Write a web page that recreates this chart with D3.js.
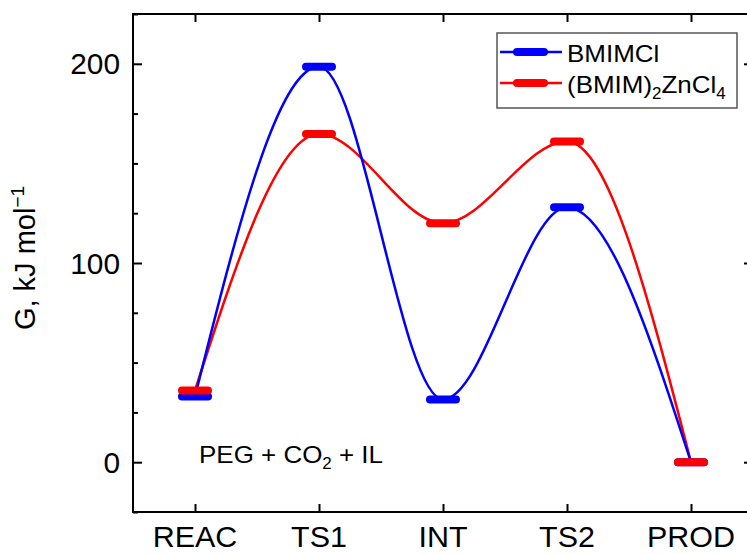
<!DOCTYPE html>
<html>
<head>
<meta charset="utf-8">
<script src="https://cdn.jsdelivr.net/npm/d3@7"></script>
<style>
  body { margin: 0; background: #fff; }
  svg { display: block; font-family: "Liberation Sans", Arial, sans-serif; }
</style>
</head>
<body>
<svg></svg>
<script>
// data
let stages = ["REAC", "TS1", "INT", "TS2", "PROD"]
let bmimcl = [33, 198.5, 31.5, 128, 0]
let znCl4 = [36, 164.8, 120, 161, 0]
let yTicks = [0, 100, 200]
let yMinor = [-25, 25, 50, 75, 125, 150, 175, 225]

let width = 747
let height = 554
let plotLeft = 133, plotRight = 753, plotTop = 14, plotBottom = 512

let svg = d3.select("svg").attr("width", width).attr("height", height)

let xScale = d3.scaleLinear().domain([-0.5, 4.5]).range([plotLeft, plotRight])
let yScale = d3.scaleLinear().domain([-25, 225]).range([plotBottom, plotTop])

// text drawn a little wider, like the original figure
let addText = (g, x, y, size, sx, anchor) => {
    return g.append("text")
        .attr("transform", "translate(" + x + "," + y + ") scale(" + sx + ",1)")
        .attr("font-size", size)
        .attr("text-anchor", anchor)
        .attr("fill", "#000")
}

// frame
svg.append("rect")
    .attr("x", plotLeft).attr("y", plotTop)
    .attr("width", plotRight - plotLeft).attr("height", plotBottom - plotTop)
    .attr("fill", "none").attr("stroke", "#000").attr("stroke-width", 2)

// axes (ticks inside, mirrored on top/right)
let xAxis = d3.axisBottom(xScale).tickValues(d3.range(stages.length))
    .tickSizeInner(-8).tickSizeOuter(0).tickFormat("")
let xAxisTop = d3.axisTop(xScale).tickValues(d3.range(stages.length))
    .tickSizeInner(-8).tickSizeOuter(0).tickFormat("")
let yAxis = d3.axisLeft(yScale).tickValues(yTicks)
    .tickSizeInner(-9).tickSizeOuter(0).tickFormat("")
let yAxisMinor = d3.axisLeft(yScale).tickValues(yMinor)
    .tickSizeInner(-5).tickSizeOuter(0).tickFormat("")
let yAxisRight = d3.axisRight(yScale).tickValues(yTicks)
    .tickSizeInner(-9).tickSizeOuter(0).tickFormat("")
let yAxisRightMinor = d3.axisRight(yScale).tickValues(yMinor)
    .tickSizeInner(-5).tickSizeOuter(0).tickFormat("")

let axes = [
    [xAxis, "translate(0," + plotBottom + ")"],
    [xAxisTop, "translate(0," + plotTop + ")"],
    [yAxis, "translate(" + plotLeft + ",0)"],
    [yAxisMinor, "translate(" + plotLeft + ",0)"],
    [yAxisRight, "translate(" + plotRight + ",0)"],
    [yAxisRightMinor, "translate(" + plotRight + ",0)"]
]
axes.forEach(a => {
    let g = svg.append("g").attr("transform", a[1]).call(a[0])
    g.select(".domain").remove()
    g.selectAll("line").attr("stroke", "#000").attr("stroke-width", 2)
})

// tick labels
stages.forEach((s, i) => {
    addText(svg, xScale(i), 547, 29, 1.05, "middle").text(s)
})
yTicks.forEach(v => {
    addText(svg, 120, yScale(v) + 10.5, 29, 1.03, "end").text(v)
})

// y label
let yl = svg.append("text")
    .attr("transform", "translate(35,258) rotate(-90)")
    .attr("font-size", 29)
    .attr("text-anchor", "middle")
    .attr("fill", "#000")
yl.append("tspan").text("G, kJ mol")
yl.append("tspan").attr("font-size", 19).attr("dy", -11).text("\u22121")

// curves
let line = d3.line()
    .x((d, i) => xScale(i))
    .y(d => yScale(d))
    .curve(d3.curveMonotoneX)

let series = [
    { values: znCl4, color: "#ff0000" },
    { values: bmimcl, color: "#0000ff" }
]
series.forEach(s => {
    svg.append("path")
        .attr("d", line(s.values))
        .attr("fill", "none")
        .attr("stroke", s.color)
        .attr("stroke-width", 2.5)
})

// energy levels
let drawLevels = (values, color) => {
    svg.append("g").selectAll("line")
        .data(values)
        .enter()
        .append("line")
        .attr("x1", (d, i) => xScale(i) - 13)
        .attr("x2", (d, i) => xScale(i) + 13)
        .attr("y1", d => yScale(d))
        .attr("y2", d => yScale(d))
        .attr("stroke", color)
        .attr("stroke-width", 8)
        .attr("stroke-linecap", "round")
}
drawLevels(bmimcl, "#0000ff")
drawLevels(znCl4, "#ff0000")

// annotation
let ann = addText(svg, 199, 463, 24.5, 1.06, "start")
ann.append("tspan").text("PEG + CO")
ann.append("tspan").attr("font-size", 16).attr("dy", 6).text("2")
ann.append("tspan").attr("dy", -6).text(" + IL")

// legend
let legend = svg.append("g")
legend.append("rect")
    .attr("x", 497).attr("y", 33).attr("width", 240).attr("height", 75)
    .attr("fill", "#fff").attr("stroke", "#555").attr("stroke-width", 1.5)

let legendItems = [
    { color: "#0000ff", y: 52 },
    { color: "#ff0000", y: 83 }
]
legendItems.forEach(it => {
    legend.append("line")
        .attr("x1", 500).attr("x2", 562).attr("y1", it.y).attr("y2", it.y)
        .attr("stroke", it.color).attr("stroke-width", 2.5)
    legend.append("line")
        .attr("x1", 517).attr("x2", 544).attr("y1", it.y).attr("y2", it.y)
        .attr("stroke", it.color).attr("stroke-width", 8).attr("stroke-linecap", "round")
})
addText(legend, 567, 62, 24.5, 1.06, "start").text("BMIMCl")
let l2 = addText(legend, 567, 93, 24.5, 1.06, "start")
l2.append("tspan").text("(BMIM)")
l2.append("tspan").attr("font-size", 16).attr("dy", 6).text("2")
l2.append("tspan").attr("dy", -6).text("ZnCl")
l2.append("tspan").attr("font-size", 16).attr("dy", 6).text("4")
</script>
</body>
</html>
